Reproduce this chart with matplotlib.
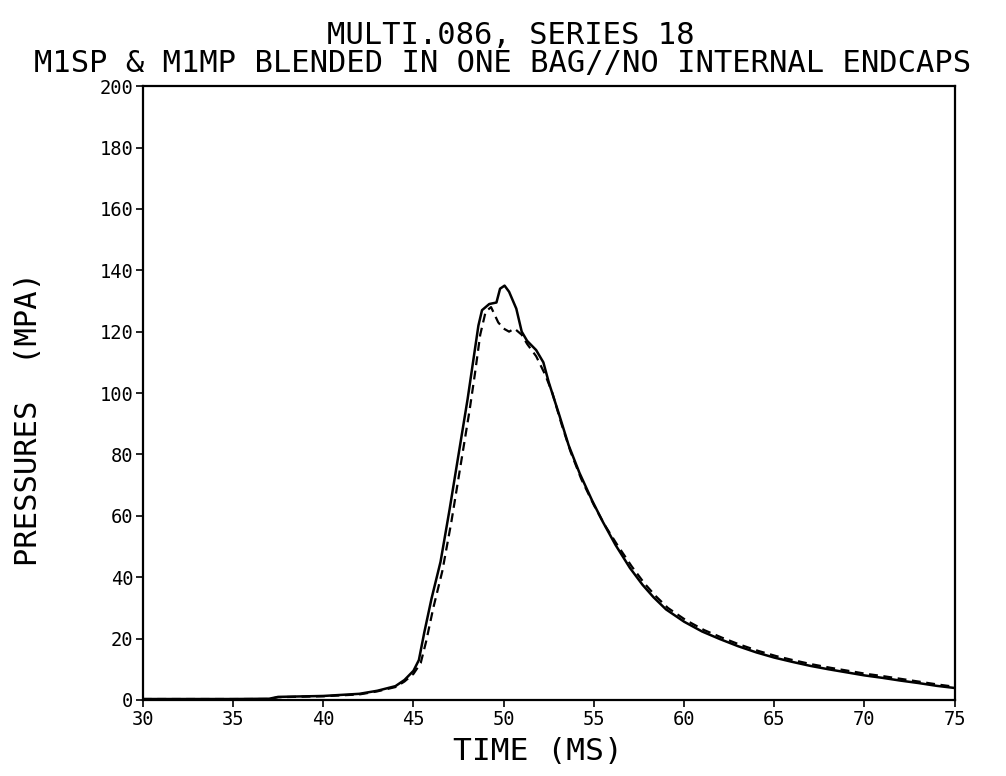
# pressure trace plot, two gauges overlaid
import matplotlib
matplotlib.use('Agg')
from matplotlib import pyplot as plt

# solid trace
t_solid = [30, 35, 37, 37.5, 40, 42, 43, 44, 44.5, 45, 45.3, 45.6, 46.0, 46.5, 47.0, 47.5,
           48.0, 48.3, 48.6, 48.8, 49.2, 49.6, 49.8, 50.05, 50.3, 50.7, 51.0, 51.3, 51.8,
           52.2, 52.5, 53.1, 53.6, 54.2, 54.9, 55.5, 56.2, 57.0, 57.7, 58.3, 59.0, 60.0,
           61.0, 62.0, 63.0, 64.0, 65.0, 66.0, 67.0, 68.0, 69.0, 70.0, 71.0, 72.0, 73.0,
           74.0, 75.0]
p_solid = [0.3, 0.3, 0.4, 1.0, 1.3, 2.0, 3.0, 4.5, 6.5, 9.5, 13, 22, 33, 45, 62, 80,
           98, 110, 122, 127, 129, 129.5, 134, 135, 133, 127.5, 120, 117, 114,
           110, 103.5, 92.5, 83, 74, 65, 58, 50.5, 43, 37.5, 33.5, 29.5, 25.5,
           22.3, 19.8, 17.5, 15.5, 13.8, 12.4, 11.1, 10.0, 9.0, 8.0, 7.2, 6.3, 5.5,
           4.6, 3.9]

# dashed trace
t_dash = [30, 37, 37.5, 40, 42, 43, 44, 44.5, 45, 45.4, 45.7, 46.1, 46.6, 47.1, 47.6,
          48.1, 48.4, 48.7, 49.0, 49.3, 49.7, 50.0, 50.3, 50.6, 51.0, 51.3, 51.8, 52.3,
          52.7, 53.2, 53.7, 54.3, 55.0, 55.6, 56.3, 57.1, 57.8, 58.4, 59.1, 60.1,
          61.1, 62.1, 63.1, 64.1, 65.1, 66.1, 67.1, 68.1, 69.1, 70.1, 71.1, 72.1, 73.1,
          74.1, 75.0]
p_dash = [0.3, 0.3, 0.9, 1.2, 1.8, 2.8, 4.2, 6.0, 8.5, 12, 19, 30, 42, 58, 76,
          94, 106, 119, 126.5, 128, 123, 121, 120, 121, 119, 116, 112, 106,
          100, 90, 81, 72, 63.5, 57, 50.5, 43.5, 38, 34, 30, 26,
          22.8, 20.3, 18, 16, 14.3, 12.9, 11.6, 10.5, 9.5, 8.5, 7.7, 6.8, 5.9,
          5.0, 4.3]

x_ticks = [30, 35, 40, 45, 50, 55, 60, 65, 70, 75]
y_ticks = [0, 20, 40, 60, 80, 100, 120, 140, 160, 180, 200]

title_1 = 'MULTI.086, SERIES 18'
title_2 = 'M1SP & M1MP BLENDED IN ONE BAG//NO INTERNAL ENDCAPS'

mono = 'DejaVu Sans Mono'

fig = plt.figure(figsize=(10.06, 7.76), dpi=100)
ax = fig.add_axes([0.142, 0.098, 0.807, 0.791])

ax.plot(t_solid, p_solid, color='black', lw=1.8)
ax.plot(t_dash, p_dash, color='black', lw=1.6, linestyle=(0, (4, 2.5)))

ax.set_xlim(30, 75)
ax.set_ylim(0, 200)
ax.set_xticks(x_ticks)
ax.set_yticks(y_ticks)
ax.set_xticklabels([str(v) for v in x_ticks], family=mono, fontsize=13.5)
ax.set_yticklabels([str(v) for v in y_ticks], family=mono, fontsize=13.5)
ax.tick_params(direction='out', length=5, width=1.2, pad=2)

for s in ax.spines.values():
    s.set_linewidth(1.6)

fig.text(0.508, 0.954, title_1, family=mono, fontsize=22, ha='center', va='center')
fig.text(0.500, 0.918, title_2, family=mono, fontsize=22, ha='center', va='center')
fig.text(0.535, 0.031, 'TIME (MS)', family=mono, fontsize=22.5, ha='center', va='center')
fig.text(0.028, 0.46, 'PRESSURES  (MPA)', family=mono, fontsize=22, ha='center',
         va='center', rotation=90)

fig.savefig('out.png', dpi=100)
